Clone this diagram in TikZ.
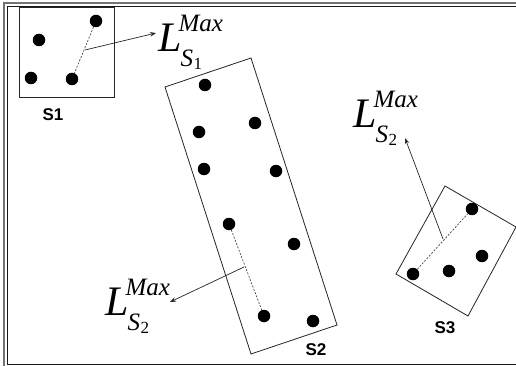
\documentclass[tikz,border=0pt]{standalone}
\usepackage{fontspec}
\setmainfont{Liberation Serif}
\newfontfamily\labelsans{Liberation Sans}
\usetikzlibrary{arrows.meta}
\newcommand\lmaxlabel[1]{%
  {\fontsize{42}{42}\selectfont\itshape L}\kern-3pt%
  \rlap{\raisebox{20pt}{\fontsize{25}{25}\selectfont\itshape Max}}%
  \kern2pt\raisebox{-15pt}{\fontsize{25}{25}\selectfont\itshape S\kern0.5pt\raisebox{-3pt}{\fontsize{17}{17}\selectfont\upshape #1}}}
\tikzset{
  pt/.style={circle,fill=black,draw=none,minimum size=12.5pt,inner sep=0pt},
  setbox/.style={draw=black!85,line width=0.8pt},
  maxline/.style={draw=black!80,line width=0.6pt,dash pattern=on 2pt off 1.5pt},
  maxarrow/.style={draw=black!85,line width=0.7pt,-{Stealth[length=6pt,width=4.5pt]}},
  lbl/.style={inner sep=0pt,anchor=base west},
  setname/.style={font=\labelsans\bfseries\fontsize{17}{17}\selectfont,inner sep=0pt}
}
\begin{document}
\begin{tikzpicture}[x=1pt,y=-1pt]
\useasboundingbox (0,0) rectangle (516,366);
\fill[white] (0,0) rectangle (516,366);
% frame
\draw[black!55,line width=1.4pt] (516,3) -- (4,3) -- (4,366);
\draw[black!90,line width=0.8pt] (516,6.5) -- (7,6.5) -- (7,364) -- (516,364);

% S1
\draw[setbox] (19,7) rectangle (114,97);
\node[pt] (a1) at (96,21) {};
\node[pt] (a2) at (39,40) {};
\node[pt] (a3) at (31,78) {};
\node[pt] (a4) at (72,79) {};
\draw[maxline] (a1) -- (a4);
\coordinate (m1) at (85,50);
\node[lbl] (L1) at (158,52) {\lmaxlabel{1}};
\coordinate (t1) at (156,33);
\draw[maxarrow] (m1) -- (t1);
\node[setname] (n1) at (53,115) {S1};

% S2
\coordinate (b1) at (165,87);
\coordinate (b2) at (251,58);
\coordinate (b3) at (337,325);
\coordinate (b4) at (251,354);
\draw[setbox] (b1) -- (b2) -- (b3) -- (b4) -- cycle;
\node[pt] (c1) at (205,85) {};
\node[pt] (c2) at (255,123) {};
\node[pt] (c3) at (199,132) {};
\node[pt] (c4) at (204,169) {};
\node[pt] (c5) at (276,171) {};
\node[pt] (c6) at (229,224) {};
\node[pt] (c7) at (294,244) {};
\node[pt] (c8) at (264,316) {};
\node[pt] (c9) at (313,321) {};
\draw[maxline] (c6) -- (c8);
\coordinate (m2) at (244,267);
\node[lbl] (L2) at (105,315) {\lmaxlabel{2}};
\coordinate (t2) at (170,302);
\draw[maxarrow] (m2) -- (t2);
\node[setname] (n2) at (316,350) {S2};

% S3
\coordinate (d1) at (445,186);
\coordinate (d2) at (516,227);
\coordinate (d3) at (468,316);
\coordinate (d4) at (396,274);
\draw[setbox] (d1) -- (d2) -- (d3) -- (d4) -- cycle;
\node[pt] (e1) at (472,209) {};
\node[pt] (e2) at (482,256) {};
\node[pt] (e3) at (449,271) {};
\node[pt] (e4) at (413,274) {};
\draw[maxline] (e4) -- (e1);
\coordinate (m3) at (443,239);
\node[lbl] (L3) at (353,128) {\lmaxlabel{2}};
\coordinate (t3) at (405,138);
\draw[maxarrow] (m3) -- (t3);
\node[setname] (n3) at (445,328) {S3};
\end{tikzpicture}
\end{document}
